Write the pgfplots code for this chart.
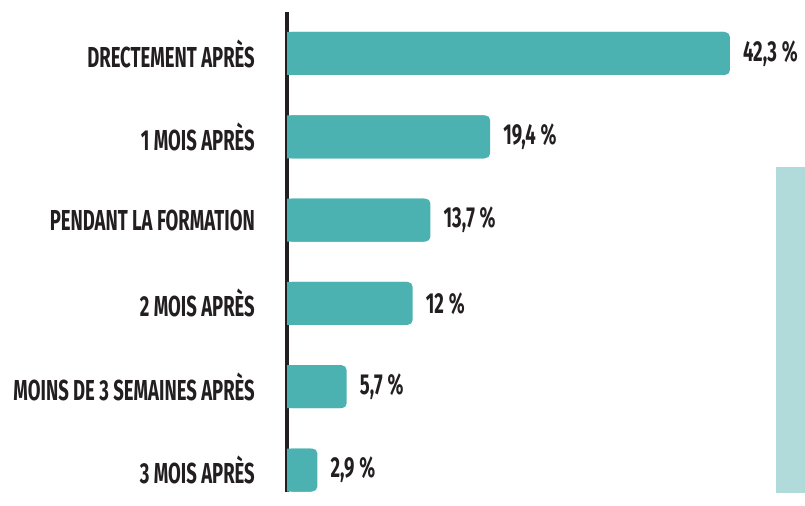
\documentclass[border=0pt]{standalone}
\usepackage{fontspec}
\setmainfont{Fira Sans}[FakeStretch=0.64]
\usepackage{pgfplots}
\usepackage{pgfplotstable}
\pgfplotsset{compat=1.18}
\definecolor{barc}{HTML}{4BB2B1}
\definecolor{lightc}{HTML}{B1DADA}
\definecolor{txt}{HTML}{231F20}
\pgfplotstableread{
y v lab
0 2.9 {2,9\,\%}
1 5.7 {5,7\,\%}
2 12 {12\,\%}
3 13.7 {13,7\,\%}
4 19.4 {19,4\,\%}
5 42.3 {42,3\,\%}
}\data
\begin{document}
\begin{tikzpicture}
\path[use as bounding box] (0,0) rectangle (805bp,506bp);
\begin{axis}[
  at={(287bp,14bp)}, anchor=south west,
  scale only axis, width=518bp, height=480bp,
  xmin=0, xmax=49.47, ymin=-0.264, ymax=5.498,
  xbar, bar width=43bp, bar shift=0pt,
  axis x line=none, axis y line=left,
  y axis line style={line width=3bp, color=txt, -},
  ytick={0,1,2,3,4,5},
  yticklabels={3 MOIS APRÈS, MOINS DE 3 SEMAINES APRÈS, 2 MOIS APRÈS, PENDANT LA FORMATION, 1 MOIS APRÈS, DRECTEMENT APRÈS},
  major tick length=0pt,
  yticklabel style={anchor=east, inner sep=0pt, xshift=-32bp, font=\fontsize{29}{32}\selectfont\bfseries, text=txt},
  clip=false,
]
\fill[lightc] (axis cs:46.7,-0.276) rectangle (axis cs:49.47,3.638);
\addplot[fill=barc, draw=none, rounded corners=5bp,
  nodes near coords, point meta=explicit symbolic,
  nodes near coords style={anchor=west, inner sep=0pt, xshift=13bp, font=\fontsize{29}{32}\selectfont\bfseries, text=txt}]
  table[x=v, y=y, meta=lab] {\data};
\addplot[fill=barc, draw=none, forget plot]
  table[x expr=\thisrow{v}-0.6, y=y] {\data};
\end{axis}
\end{tikzpicture}
\end{document}
